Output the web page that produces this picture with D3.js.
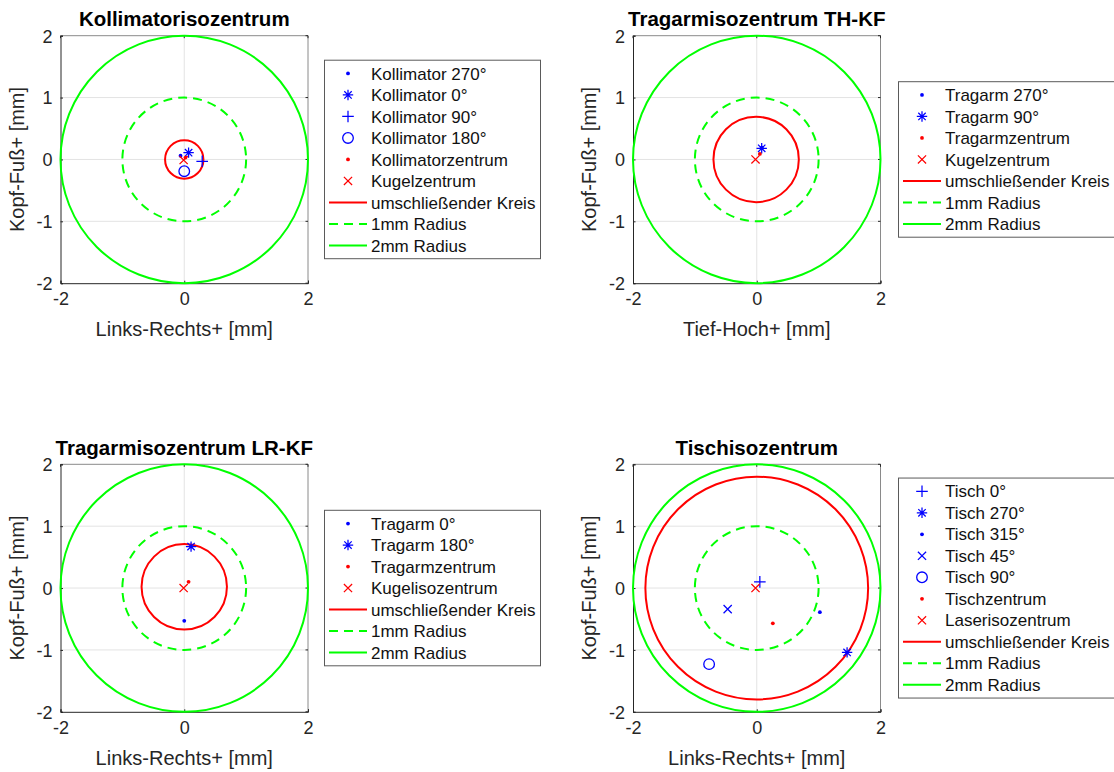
<!DOCTYPE html>
<html><head><meta charset="utf-8">
<script src="https://cdn.jsdelivr.net/npm/d3@7"></script>
<style>
body{margin:0;background:#fff}
svg{display:block}
text{font-family:"Liberation Sans",Arial,Helvetica,sans-serif}
</style>
</head><body>
<svg id="chart" width="1114" height="772"></svg>
<script>
// ---------- data ----------
const titles = ["Kollimatorisozentrum", "Tragarmisozentrum TH-KF", "Tragarmisozentrum LR-KF", "Tischisozentrum"];
const xAxisLabels = ["Links-Rechts+ [mm]", "Tief-Hoch+ [mm]", "Links-Rechts+ [mm]", "Links-Rechts+ [mm]"];
const yAxisLabel = "Kopf-Fuß+ [mm]";
const xTickValues = [-2, 0, 2];
const yTickValues = [-2, -1, 0, 1, 2];
const circleLabels = ["umschließender Kreis", "1mm Radius", "2mm Radius"];
const referenceRadii = [1, 2];

// Panel 1: Kollimatorisozentrum
const kollLabels = ["Kollimator 270°", "Kollimator 0°", "Kollimator 90°", "Kollimator 180°", "Kollimatorzentrum", "Kugelzentrum"];
const kollX = [-0.06, 0.07, 0.29, 0.00, 0.02, -0.01];
const kollY = [0.06, 0.11, -0.03, -0.19, 0.03, -0.01];
const kollCircle = [0.00, 0.00, 0.31]; // centre x, centre y, radius

// Panel 2: Tragarmisozentrum TH-KF
const thLabels = ["Tragarm 270°", "Tragarm 90°", "Tragarmzentrum", "Kugelzentrum"];
const thX = [0.08, 0.08, 0.05, -0.02];
const thY = [0.19, 0.18, 0.09, 0.00];
const thCircle = [-0.01, 0.00, 0.69];

// Panel 3: Tragarmisozentrum LR-KF
const lrLabels = ["Tragarm 0°", "Tragarm 180°", "Tragarmzentrum", "Kugelisozentrum"];
const lrX = [0.00, 0.11, 0.07, -0.01];
const lrY = [-0.53, 0.67, 0.10, 0.00];
const lrCircle = [0.00, 0.02, 0.69];

// Panel 4: Tischisozentrum
const tischLabels = ["Tisch 0°", "Tisch 270°", "Tisch 315°", "Tisch 45°", "Tisch 90°", "Tischzentrum", "Laserisozentrum"];
const tischX = [0.05, 1.46, 1.02, -0.47, -0.77, 0.26, -0.02];
const tischY = [0.10, -1.04, -0.39, -0.34, -1.23, -0.57, 0.00];
const tischCircle = [0.00, 0.00, 1.80];

// ---------- styles ----------
const kollSymbols = ["dot", "asterisk", "plus", "circle", "dot", "x"];
const kollColors = ["b", "b", "b", "b", "r", "r"];
const thSymbols = ["dot", "asterisk", "dot", "x"];
const thColors = ["b", "b", "r", "r"];
const lrSymbols = ["dot", "asterisk", "dot", "x"];
const lrColors = ["b", "b", "r", "r"];
const tischSymbols = ["plus", "asterisk", "dot", "x", "circle", "dot", "x"];
const tischColors = ["b", "b", "b", "b", "b", "r", "r"];

const COLORS = {b: "#0000ff", r: "#ff0000", g: "#00ff00"};
const TEXT = "#262626";

const panelLeft = [60.5, 633, 60.5, 633];
const panelTop = [35.7, 35.7, 464.3, 464.3];
const panelSize = 247.5;
const legendLeft = [324, 898, 324, 898];
const legendWidth = 216;
const rowH = 21.5;

const svg = d3.select("#chart");

function drawMarker(g, type, px, py, color) {
  const sw = 1.25;
  if (type === "dot") {
    g.append("circle").attr("cx", px).attr("cy", py).attr("r", 1.9).attr("fill", color);
  } else if (type === "circle") {
    g.append("circle").attr("cx", px).attr("cy", py).attr("r", 5.3)
      .attr("fill", "none").attr("stroke", color).attr("stroke-width", 1.3);
  } else if (type === "plus") {
    const s = 5.8;
    g.append("path").attr("d", `M${px - s},${py}H${px + s}M${px},${py - s}V${py + s}`)
      .attr("stroke", color).attr("stroke-width", sw).attr("fill", "none");
  } else if (type === "x") {
    const s = 4.1;
    g.append("path").attr("d", `M${px - s},${py - s}L${px + s},${py + s}M${px - s},${py + s}L${px + s},${py - s}`)
      .attr("stroke", color).attr("stroke-width", sw).attr("fill", "none");
  } else if (type === "asterisk") {
    const s = 5.2, d = 3.7;
    g.append("path").attr("d",
      `M${px - s},${py}H${px + s}M${px},${py - s}V${py + s}` +
      `M${px - d},${py - d}L${px + d},${py + d}M${px - d},${py + d}L${px + d},${py - d}`)
      .attr("stroke", color).attr("stroke-width", sw).attr("fill", "none");
  }
}

function drawPanel(i, labels, xs, ys, symbols, colors, circle) {
  const L = panelLeft[i], T = panelTop[i], S = panelSize;
  const x = d3.scaleLinear().domain([-2, 2]).range([L, L + S]);
  const y = d3.scaleLinear().domain([-2, 2]).range([T + S, T]);
  const g = svg.append("g");

  // grid
  g.selectAll(null).data(yTickValues.filter(v => Math.abs(v) < 2)).join("line")
    .attr("x1", L).attr("x2", L + S).attr("y1", d => y(d)).attr("y2", d => y(d))
    .attr("stroke", "#e3e3e3").attr("stroke-width", 1);
  g.selectAll(null).data(xTickValues.filter(v => Math.abs(v) < 2)).join("line")
    .attr("y1", T).attr("y2", T + S).attr("x1", d => x(d)).attr("x2", d => x(d))
    .attr("stroke", "#e3e3e3").attr("stroke-width", 1);

  // box: top/right lighter
  g.append("line").attr("x1", L).attr("x2", L + S).attr("y1", T).attr("y2", T).attr("stroke", "#8a8a8a");
  g.append("line").attr("x1", L + S).attr("x2", L + S).attr("y1", T).attr("y2", T + S).attr("stroke", "#8a8a8a");

  // axes (inward ticks), hyphen-minus like the reference
  const fmt = d => String(d);
  const xAx = d3.axisBottom(x).tickValues(xTickValues).tickSize(-2.5).tickPadding(9).tickFormat(fmt);
  const yAx = d3.axisLeft(y).tickValues(yTickValues).tickSize(-2.5).tickPadding(8).tickFormat(fmt);
  const gx = g.append("g").attr("transform", `translate(0,${T + S})`).call(xAx);
  const gy = g.append("g").attr("transform", `translate(${L},0)`).call(yAx);
  [gx, gy].forEach(a => {
    a.select(".domain").attr("stroke", TEXT).attr("stroke-width", 1);
    a.selectAll(".tick line").attr("stroke", TEXT);
    a.selectAll(".tick text").attr("fill", TEXT).style("font-size", "18px")
      .style("font-family", '"Liberation Sans", Arial, sans-serif');
  });
  gy.selectAll(".tick text").attr("dy", "0.35em");
  // right & top ticks
  g.selectAll(null).data(yTickValues).join("line")
    .attr("x1", L + S).attr("x2", L + S - 2.5).attr("y1", d => y(d)).attr("y2", d => y(d)).attr("stroke", TEXT);
  g.selectAll(null).data(xTickValues).join("line")
    .attr("y1", T).attr("y2", T + 2.5).attr("x1", d => x(d)).attr("x2", d => x(d)).attr("stroke", TEXT);

  // circles
  const rad = [circle[2]].concat(referenceRadii);
  const cxs = [circle[0], 0, 0], cys = [circle[1], 0, 0];
  const cStroke = [COLORS.r, COLORS.g, COLORS.g];
  const cDash = [null, "9,6", null];
  rad.forEach((r, k) => {
    g.append("ellipse").attr("cx", x(cxs[k])).attr("cy", y(cys[k]))
      .attr("rx", x(r) - x(0)).attr("ry", y(0) - y(r))
      .attr("fill", "none").attr("stroke", cStroke[k]).attr("stroke-width", 2)
      .attr("stroke-dasharray", cDash[k]);
  });

  // markers
  xs.forEach((v, k) => drawMarker(g, symbols[k], x(v), y(ys[k]), COLORS[colors[k]]));

  // title
  g.append("text").attr("x", L + S / 2).attr("y", T - 9.5).attr("text-anchor", "middle")
    .style("font-size", "20.5px").style("font-weight", "bold").attr("fill", "#000").text(titles[i]);
  // x label
  g.append("text").attr("x", L + S / 2).attr("y", T + S + 53).attr("text-anchor", "middle")
    .style("font-size", "20px").attr("fill", TEXT).text(xAxisLabels[i]);
  // y label
  g.append("text").attr("transform", `translate(${L - 37},${T + S / 2}) rotate(-90)`)
    .attr("text-anchor", "middle").style("font-size", "20px").attr("fill", TEXT).text(yAxisLabel);

  // legend
  const nRows = labels.length + 3;
  const LH = nRows * rowH + 5;
  const LL = legendLeft[i];
  const LT = T + S / 2 - LH / 2;
  const lg = svg.append("g");
  lg.append("rect").attr("x", LL + 0.5).attr("y", LT).attr("width", legendWidth).attr("height", LH)
    .attr("fill", "#fff").attr("stroke", "#5a5a5a").attr("stroke-width", 1);
  const rowY = k => LT + 2.5 + rowH * (k + 0.5);
  labels.forEach((lab, k) => {
    drawMarker(lg, symbols[k], LL + 24, rowY(k), COLORS[colors[k]]);
    lg.append("text").attr("x", LL + 47).attr("y", rowY(k)).attr("dy", "0.36em")
      .style("font-size", "17px").attr("fill", "#111").text(lab);
  });
  circleLabels.forEach((lab, j) => {
    const k = labels.length + j;
    lg.append("line").attr("x1", LL + 5).attr("x2", LL + 43).attr("y1", rowY(k)).attr("y2", rowY(k))
      .attr("stroke", cStroke[j]).attr("stroke-width", 2).attr("stroke-dasharray", cDash[j]);
    lg.append("text").attr("x", LL + 47).attr("y", rowY(k)).attr("dy", "0.36em")
      .style("font-size", "17px").attr("fill", "#111").text(lab);
  });
}

drawPanel(0, kollLabels, kollX, kollY, kollSymbols, kollColors, kollCircle);
drawPanel(1, thLabels, thX, thY, thSymbols, thColors, thCircle);
drawPanel(2, lrLabels, lrX, lrY, lrSymbols, lrColors, lrCircle);
drawPanel(3, tischLabels, tischX, tischY, tischSymbols, tischColors, tischCircle);
</script>
</body></html>
